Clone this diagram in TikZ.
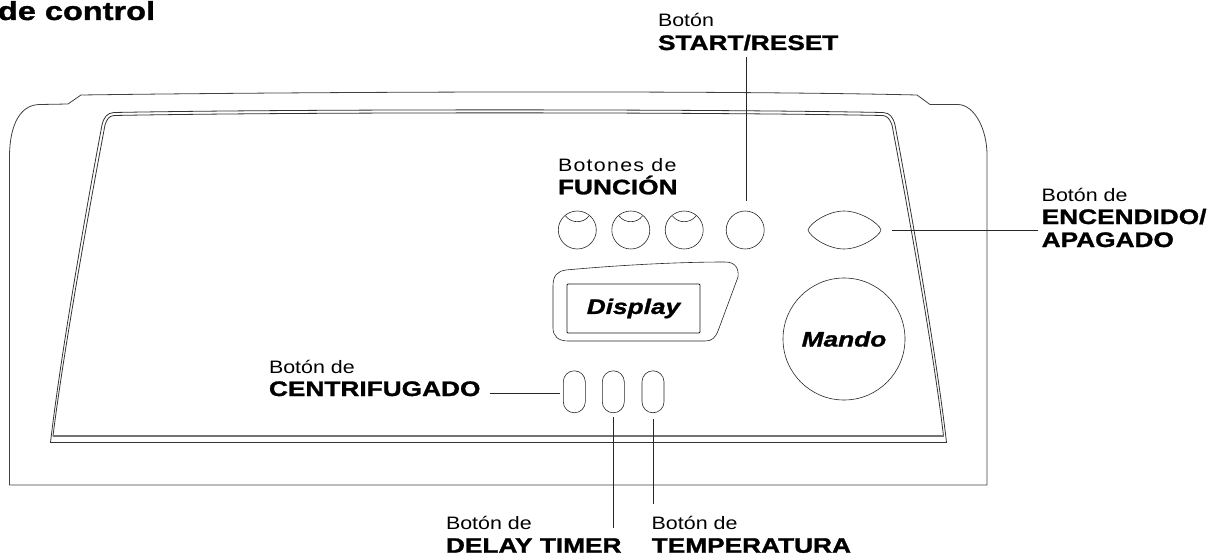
\documentclass[tikz,border=0pt]{standalone}
\usepackage{fontspec}
\setmainfont[FakeStretch=1.19]{Liberation Sans}
\newfontfamily\blackfont[UprightFont={* Bold},ItalicFont={* Bold Italic},FakeBold=1.3,FakeStretch=1.25]{Liberation Sans}
\newfontfamily\wideletters[FakeStretch=1.19,LetterSpace=7]{Liberation Sans}
\newcommand{\negrita}[1]{{\blackfont\fontsize{21}{23}\selectfont #1}}
\begin{document}
\begin{tikzpicture}[x=1pt,y=-1pt,
  every node/.style={inner sep=0pt,outer sep=0pt},
  outline/.style={draw=black!75, line width=0.8pt},
  trim/.style={draw=black!80, line width=0.8pt},
  thinline/.style={draw=black!85, line width=0.6pt},
  leader/.style={draw=black!85, line width=0.7pt},
  label/.style={align=left, anchor=base west, font=\fontsize{18}{23}\selectfont},
  button/.style={circle, thinline, minimum size=38pt},
  slot/.style={rounded corners=11pt, thinline, minimum width=22pt, minimum height=42pt},
  brand/.style={font=\fontsize{21}{21}\selectfont\blackfont\itshape}]
  \useasboundingbox (0,0) rectangle (1220,556);
  % --- carcasa ---
  \draw[outline] (9.5,485) -- (9.5,155) .. controls (10,125) and (20,104.5) .. (40,104.5)
    -- (68,104) -- (81,95) .. controls (300,92) and (700,90) .. (917,95)
    -- (930,104.5) -- (958,104.5) .. controls (975,105) and (987,130) .. (987,155) -- (987,485) -- cycle;
  % --- panel ---
  \draw[trim] (50.5,442.5) .. controls (60,360) and (85,215) .. (102,125) .. controls (104,117) and (107,113) .. (114,112.5)
    .. controls (300,109) and (700,109) .. (883,112.5) .. controls (890,113) and (893,117) .. (895,125)
    .. controls (912,215) and (937,360) .. (946.5,442.5) -- cycle;
  \draw[trim] (53,436) .. controls (63,355) and (88,215) .. (105,125) .. controls (107,119) and (109,116) .. (114,115.5)
    .. controls (300,112) and (700,112) .. (883,115.5) .. controls (887,116) and (890,119) .. (892,125)
    .. controls (909,215) and (934,355) .. (943.5,436) -- cycle;
  \draw[draw=black!55, line width=1.4pt] (53,436) -- (943.5,436);
  % --- botones de funcion ---
  \foreach \n/\x in {fa/577.3,fb/630.8,fc/684.2} {
    \node[button] (\n) at (\x,230) {};
    \draw[thinline] (\x-11.7,216) .. controls (\x-6,223.6) and (\x+6,223.6) .. (\x+11.7,216);
  }
  \node[button] (start) at (745.2,230) {};
  \draw[thinline] (808,230) .. controls (810,223) and (828,211) .. (844,211)
    .. controls (860,211) and (879,223) .. (881,230) .. controls (879,237) and (860,249) .. (844,249)
    .. controls (828,249) and (810,237) .. (808,230) -- cycle;
  % --- display ---
  \draw[thinline] (553,286) .. controls (553,275) and (558,271) .. (566,270)
    .. controls (620,265) and (680,262) .. (725,262) .. controls (735,262) and (739,268) .. (738,277)
    -- (718,331) .. controls (715,338) and (712,341) .. (705,341) -- (568,341)
    .. controls (558,341) and (553,336) .. (553,328) -- cycle;
  \node[draw=black!90, line width=0.8pt, rounded corners=1pt, minimum width=133pt, minimum height=49pt, brand] (display) at (633.5,308.5) {Display};
  % --- mando ---
  \node[circle, thinline, minimum size=122pt, brand] (mando) at (844,339) {Mando};
  % --- botones inferiores ---
  \node[slot] (spin) at (574.3,391.8) {};
  \node[slot] (delay) at (613.3,391.8) {};
  \node[slot] (temp) at (653,391.8) {};
  % --- textos ---
  \node[font=\fontsize{26}{26}\selectfont\blackfont, anchor=base west] (title) at (-2,20) {de control};
  \node[label] (lstart) at (658,50) {Botón\\\negrita{START/RESET}};
  \node[label] (lfunc) at (558,194.3) {{\wideletters Botones de}\\\negrita{FUNCIÓN}};
  \node[label] (lpower) at (1041.7,247) {Botón de\\\negrita{ENCENDIDO/}\\\negrita{APAGADO}};
  \node[label] (lspin) at (269,396) {Botón de\\\negrita{CENTRIFUGADO}};
  \node[label] (ldelay) at (446,552.7) {Botón de\\\negrita{DELAY TIMER}};
  \node[label] (ltemp) at (651.7,552.7) {Botón de\\\negrita{TEMPERATURA}};
  % --- lineas guia ---
  \coordinate (lstart1) at (746,57);
  \coordinate (lstart2) at (746,200.7);
  \coordinate (lpower1) at (892,230.3);
  \coordinate (lpower2) at (1037.6,230.3);
  \coordinate (lspin1) at (490,393);
  \coordinate (lspin2) at (560,393);
  \coordinate (ldelay1) at (613.3,417.3);
  \coordinate (ldelay2) at (613.3,528);
  \coordinate (ltemp1) at (653.6,419);
  \coordinate (ltemp2) at (653.6,504.3);
  \foreach \a/\b in {lstart1/lstart2,lpower1/lpower2,lspin1/lspin2,ldelay1/ldelay2,ltemp1/ltemp2}
    \draw[leader] (\a) -- (\b);
\end{tikzpicture}
\end{document}
